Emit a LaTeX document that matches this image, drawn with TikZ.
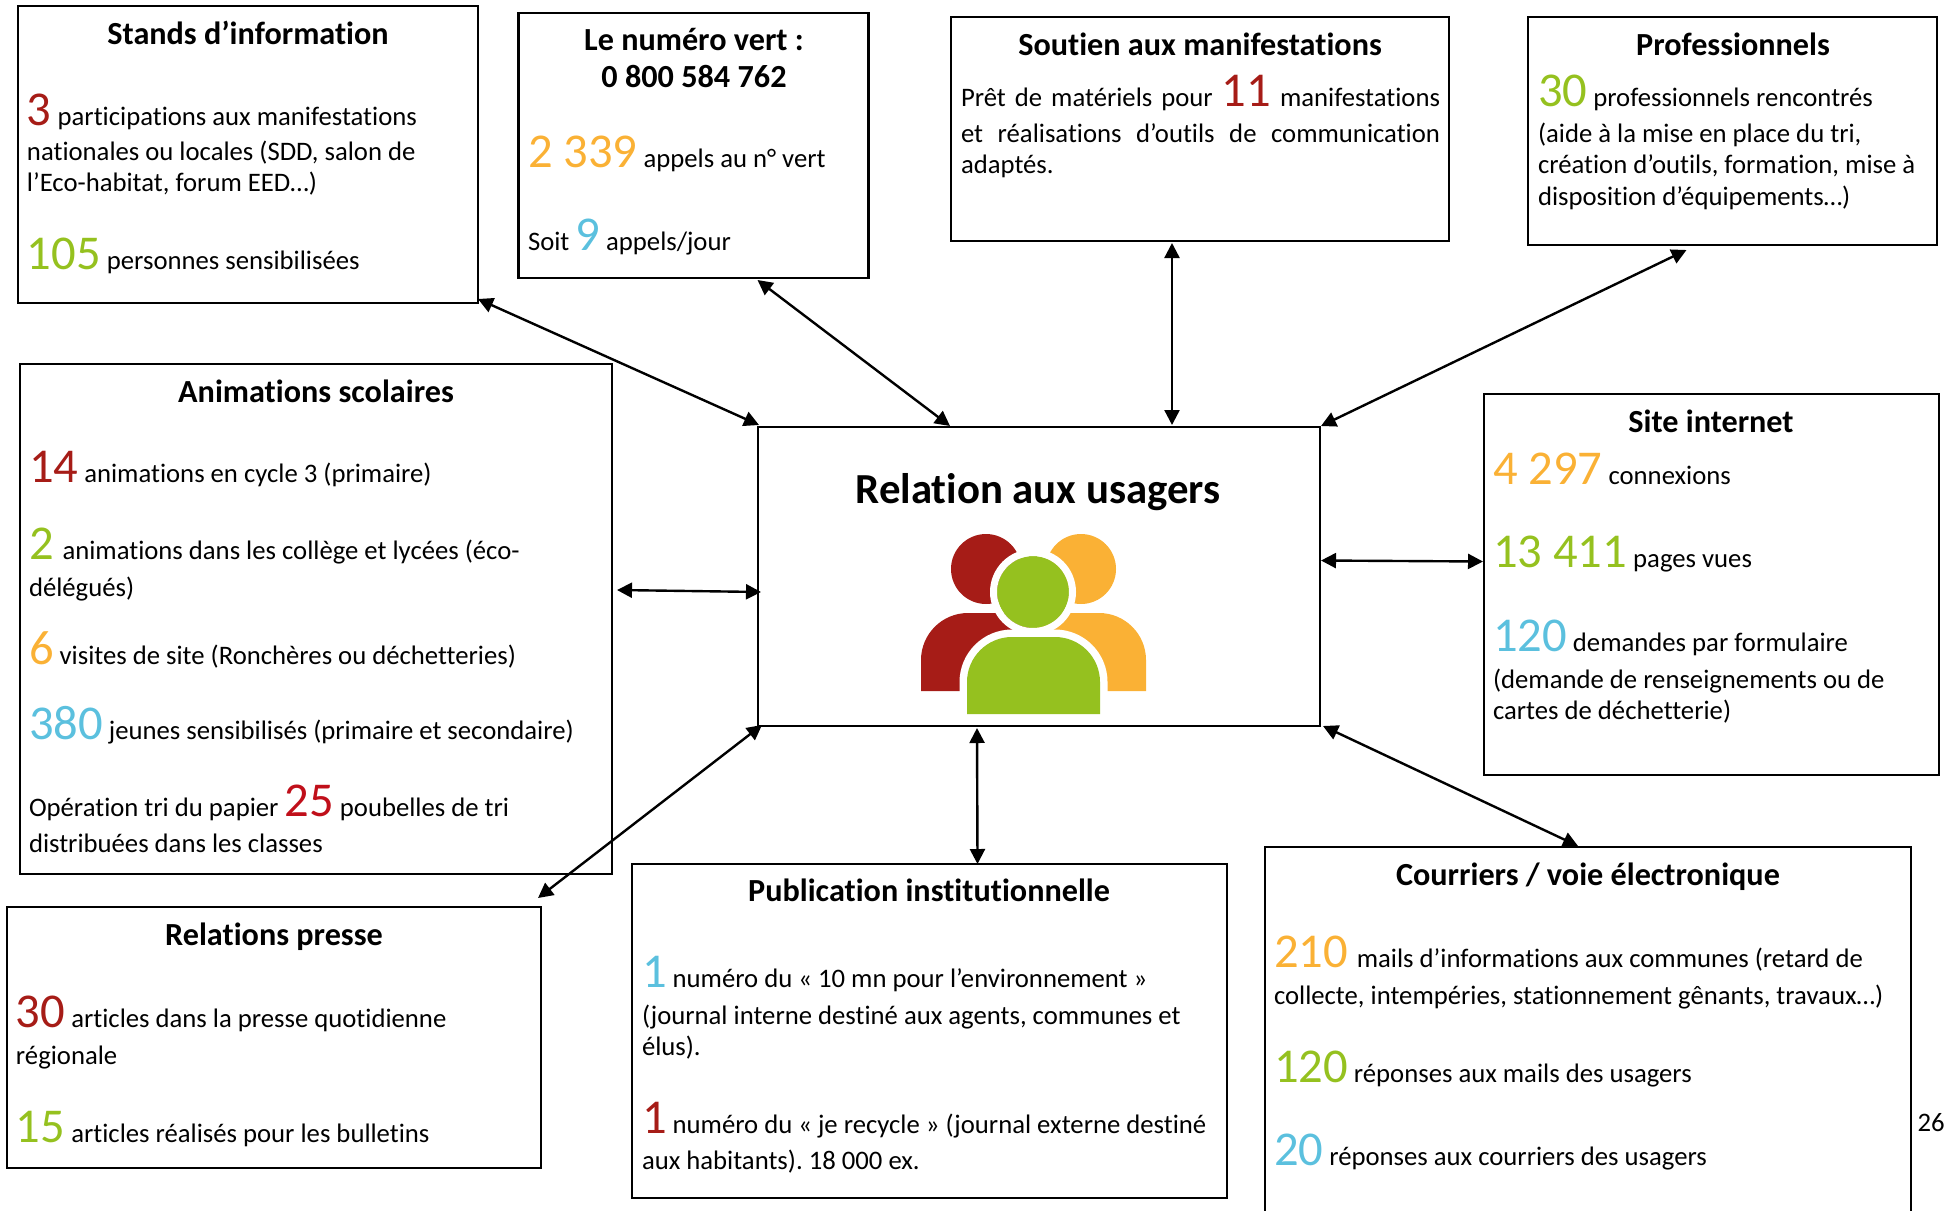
\documentclass[tikz,border=0pt]{standalone}
\usepackage{fontspec}
\setmainfont{Carlito}[Ligatures=NoCommon]
\usetikzlibrary{arrows.meta}
\definecolor{cred}{HTML}{A61C17}
\definecolor{cbright}{HTML}{C00F1A}
\definecolor{corange}{HTML}{FAB135}
\definecolor{cgreen}{HTML}{95C11F}
\definecolor{cblue}{HTML}{5BC0DE}
\newcommand{\numfont}{\fontsize{48.6}{52}\selectfont}
\newcommand{\numR}[1]{{\numfont\textcolor{cred}{#1}}}
\newcommand{\numX}[1]{{\numfont\textcolor{cbright}{#1}}}
\newcommand{\numO}[1]{{\numfont\textcolor{corange}{#1}}}
\newcommand{\numG}[1]{{\numfont\textcolor{cgreen}{#1}}}
\newcommand{\numB}[1]{{\numfont\textcolor{cblue}{#1}}}
\frenchspacing
\tikzset{
 panel/.style={draw=black,line width=2.5pt,inner sep=0pt,outer sep=0pt},
 txt/.style={anchor=base west,inner sep=0pt,outer sep=0pt,font=\fontsize{26.7}{30}\selectfont},
 ttl/.style={anchor=base,inner sep=0pt,outer sep=0pt,font=\fontsize{32.2}{36}\selectfont\bfseries},
 link/.style={line width=2.4pt,{Triangle[length=15pt,width=15pt]}-{Triangle[length=15pt,width=15pt]}}
}
\begin{document}
\begin{tikzpicture}[x=1pt,y=-1pt]
\clip (0,0) rectangle (1950,1210);
% boxes
\node[panel,minimum width=460pt,minimum height=297pt] (stands) at (248,154.5) {};
\node[panel,minimum width=350pt,minimum height=265pt] (vert) at (693.5,145.5) {};
\node[panel,minimum width=498pt,minimum height=224pt] (soutien) at (1200,129) {};
\node[panel,minimum width=409pt,minimum height=228pt] (pro) at (1732.5,131) {};
\node[panel,minimum width=592pt,minimum height=510pt] (anim) at (316,619) {};
\node[panel,minimum width=562pt,minimum height=299pt] (center) at (1039,576.5) {};
\node[panel,minimum width=455pt,minimum height=381pt] (site) at (1711.5,584.5) {};
\node[panel,minimum width=534pt,minimum height=261pt] (presse) at (274,1037.5) {};
\node[panel,minimum width=595pt,minimum height=334pt] (pub) at (929.5,1031) {};
\node[panel,minimum width=646pt,minimum height=370pt] (courr) at (1588,1032) {};
% connectors
\draw[link] ([yshift=4pt]stands.south east) -- ([xshift=1pt,yshift=2pt]center.north west);
\draw[link] ([xshift=64pt,yshift=-2pt]vert.south) -- ([xshift=-89pt,yshift=1pt]center.north);
\draw[link] ([xshift=-28pt,yshift=-2pt]soutien.south) -- ([xshift=133pt,yshift=2pt]center.north);
\draw[link] ([xshift=-46pt,yshift=-5pt]pro.south) -- ([xshift=1pt,yshift=1pt]center.north east);
\draw[link] ([xshift=1pt,yshift=16pt]center.east) -- ([xshift=-1pt,yshift=23pt]site.west);
\draw[link] ([xshift=5pt,yshift=29pt]anim.east) -- ([xshift=3pt,yshift=-15.5pt]center.west);
\draw[link] ([xshift=4pt,yshift=1pt]center.south west) -- ([xshift=-3pt,yshift=9pt]presse.north east);
\draw[link] ([xshift=-62pt,yshift=-2pt]center.south) -- ([xshift=48pt]pub.north);
\draw[link] ([xshift=3pt]center.south east) -- ([xshift=-10pt,yshift=1pt]courr.north);
% Stands
\node[ttl] (t1) at (248,44) {Stands d’information};
\node[txt] (a1) at (27,125) {\numR{3} participations aux manifestations};
\node[txt] (a2) at (27,160) {nationales ou locales (SDD, salon de};
\node[txt] (a3) at (27,191) {l’Eco-habitat, forum EED…)};
\node[txt] (a4) at (27,269) {\numG{105} personnes sensibilisées};
% Vert
\node[ttl] (t2) at (694,50) {Le numéro vert :};
\node[ttl] (t2b) at (694,87) {0 800 584 762};
\node[txt] (b1) at (528,167) {\numO{2 339} appels au n° vert};
\node[txt] (b2) at (528,250) {Soit \numB{9} appels/jour};
% Soutien
\node[ttl] (t3) at (1200,55) {Soutien aux manifestations};
\node[txt] (c1) at (961,106) {\makebox[479pt][s]{Prêt de matériels pour \numR{11} manifestations}};
\node[txt] (c2) at (961,142) {\makebox[479pt][s]{et réalisations d’outils de communication}};
\node[txt] (c3) at (961,173) {adaptés.};
% Pro
\node[ttl] (t4) at (1733,55) {Professionnels};
\node[txt] (d1) at (1538,106) {\numG{30} professionnels rencontrés};
\node[txt] (d2) at (1538,142) {(aide à la mise en place du tri,};
\node[txt] (d3) at (1538,173) {création d’outils, formation, mise à};
\node[txt] (d4) at (1538,205) {disposition d’équipements…)};
% Animations
\node[ttl] (t5) at (316,402) {Animations scolaires};
\node[txt] (e1) at (29,482) {\numR{14} animations en cycle 3 (primaire)};
\node[txt] (e2) at (29,559) {\numG{2}\,\,animations dans les collège et lycées (éco-};
\node[txt] (e3) at (29,596) {délégués)};
\node[txt] (e4) at (29,664) {\numO{6} visites de site (Ronchères ou déchetteries)};
\node[txt] (e5) at (29,739) {\numB{380} jeunes sensibilisés (primaire et secondaire)};
\node[txt] (e6) at (29,816) {Opération tri du papier \numX{25} poubelles de tri};
\node[txt] (e7) at (29,852) {distribuées dans les classes};
% Center
\node[ttl,font=\fontsize{42.8}{46}\selectfont\bfseries] (t6) at (1038,503) {Relation aux usagers};
% Site
\node[ttl] (t7) at (1711,432) {Site internet};
\node[txt] (f1) at (1493,484) {\numO{4 297} connexions};
\node[txt] (f2) at (1493,567) {\numG{13 411} pages vues};
\node[txt] (f3) at (1493,651) {\numB{120} demandes par formulaire};
\node[txt] (f4) at (1493,688) {(demande de renseignements ou de};
\node[txt] (f5) at (1493,719) {cartes de déchetterie)};
% Presse
\node[ttl] (t8) at (274,945) {Relations presse};
\node[txt] (g1) at (16,1027) {\numR{30} articles dans la presse quotidienne};
\node[txt] (g2) at (16,1064) {régionale};
\node[txt] (g3) at (16,1142) {\numG{15} articles réalisés pour les bulletins};
% Publication
\node[ttl] (t9) at (929,901) {Publication institutionnelle};
\node[txt] (h1) at (642,987) {\numB{1} numéro du « 10 mn pour l’environnement »};
\node[txt] (h2) at (642,1024) {(journal interne destiné aux agents, communes et};
\node[txt] (h3) at (642,1055) {élus).};
\node[txt] (h4) at (642,1133) {\numR{1} numéro du « je recycle » (journal externe destiné};
\node[txt] (h5) at (642,1169) {aux habitants). 18 000 ex.};
% Courriers
\node[ttl] (t10) at (1588,885) {Courriers / voie électronique};
\node[txt] (i1) at (1274,967) {\numO{210}\,\,mails d’informations aux communes (retard de};
\node[txt] (i2) at (1274,1004) {collecte, intempéries, stationnement gênants, travaux…)};
\node[txt] (i3) at (1274,1082) {\numG{120} réponses aux mails des usagers};
\node[txt] (i4) at (1274,1165) {\numB{20} réponses aux courriers des usagers};
\node[txt] (pg) at (1917.5,1131) {26};
% Icon
\fill[cred] (986,569) circle (35);
\fill[corange] (1081,569) circle (35);
\fill[cred] (921,691) -- (921,660) arc (180:270:47) -- (1033,613) -- (1033,691) -- cycle;
\fill[corange] (1146,691) -- (1146,660) arc (0:-90:47) -- (1033,613) -- (1033,691) -- cycle;
\draw[white,line width=15pt] (967,714) -- (967,682) arc (180:270:45) -- (1055,637) arc (-90:0:45) -- (1100,714) -- cycle;
\fill[cgreen] (967,714) -- (967,682) arc (180:270:45) -- (1055,637) arc (-90:0:45) -- (1100,714) -- cycle;
\fill[cgreen] (1033,592) circle (36);
\draw[white,line width=7pt] (1033,592) circle (39.5);
\end{tikzpicture}
\end{document}
